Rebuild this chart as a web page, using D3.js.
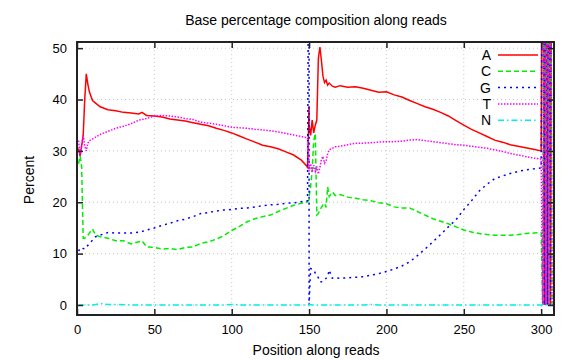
<!DOCTYPE html>
<html><head><meta charset="utf-8">
<script src="https://cdn.jsdelivr.net/npm/d3@7"></script>
<style>body{margin:0;background:#fff}svg{display:block}text{font-family:"Liberation Sans",Arial,sans-serif;}</style>
</head><body><svg id="c" width="576" height="360"></svg>
<script>
const positions = [
 1,2,3,4,5,6,7,8,10,12,
 15,20,25,30,35,40,42,45,50,55,
 60,65,70,75,80,85,90,95,100,105,
 110,115,120,125,130,135,140,145,148,149,
 150,150,151,152,153,154,155,156,157,158,
 159,160,161,162,163,165,167,170,175,180,
 185,190,195,200,205,210,215,220,225,230,
 235,240,245,250,255,260,265,270,275,280,
 285,290,295,300,301,302,303,304,305,306,
 307];
const seriesNames = ["A","C","G","T","N"];
const valuesA = [
 30.5,29,31,33,40,45,43,41.5,39.8,39.3,
 38.6,38,37.8,37.5,37.4,37.2,37.5,36.9,36.8,36.6,
 36.2,36,35.8,35.5,35.2,34.9,34.4,34,33.5,32.9,
 32.3,31.7,31.1,30.8,30.4,29.8,29.2,28.2,27.2,26.8,
 38.7,35,33,36,33.5,35,36,48,50.2,47.5,
 44.5,43.3,43.8,42.8,43.2,42.6,42.4,42.7,42.4,42.5,
 42.2,41.8,41.4,41.5,40.9,40.5,39.8,39.2,38.6,38.1,
 37.5,36.8,35.9,35,34.2,33.5,32.8,32.1,31.7,31.2,
 30.9,30.6,30.3,30,100,0,100,0,100,0,
 100];
const valuesC = [
 27.5,29,27,13,13,13.3,13.5,14,14.8,13.6,
 13.3,13,12.5,12.5,11.9,12.3,12.5,11.3,11.2,10.9,
 11,10.8,11.2,11.3,12,12.3,12.8,13.5,14.5,15.3,
 16.2,16.8,17.2,17.5,18.2,18.8,19.4,19.8,20,20.1,
 20.5,21,23,26.3,32,33.4,17.5,17.8,18.5,19,
 19.5,19.8,19,23,21.1,22,21.3,21.5,21,20.8,
 20.5,20.3,19.9,19.7,19.1,18.9,18.9,18.2,17.5,16.8,
 16.3,15.8,15.2,14.6,14.2,13.9,13.7,13.6,13.6,13.6,
 13.7,13.9,14,14.1,0,100,0,100,0,100,
 0];
const valuesG = [
 10.5,11,11.2,11,10.9,11.3,11.6,12,12.6,13.3,
 13.6,14.1,14,14,14,14.2,14.3,14.6,15,15.5,
 15.9,16.4,16.7,17.2,17.8,18,18.3,18.5,18.6,18.8,
 18.9,19.1,19.3,19.5,19.6,19.8,19.9,20.1,20.2,20.3,
 100,0,7.1,7,6.8,6.2,5.8,5.3,4.5,4.5,
 4.6,4.9,5.2,5.5,6.8,5.2,5.3,5.2,5.3,5.4,
 5.5,5.8,6.1,6.5,7,7.6,8.4,9.6,10.9,12.3,
 13.7,15.2,16.6,18.6,20.3,22.2,23.5,24.6,25.1,25.6,
 26,26.3,26.5,26.7,100,0,100,0,100,0,
 100];
const valuesT = [
 32,29,31,33,31,30,31.5,32,32.3,32.7,
 33.2,33.8,34.4,34.8,35.3,36,36.1,36.3,36.8,36.9,
 36.8,36.6,36.3,36.1,35.6,35.4,35.2,34.9,34.6,34.5,
 34.4,34.2,34.1,33.9,33.7,33.4,33.1,32.8,32.6,32.5,
 28,26,27.5,25.8,27.2,26,27,25.5,26.8,28.4,
 28.9,27.6,28,29.5,30.2,30.5,30.8,30.9,31.2,31.5,
 31.5,31.6,31.7,31.8,31.8,31.9,32.1,32.2,32,31.8,
 31.6,31.4,31.2,31.1,30.9,30.7,30.5,30.2,29.9,29.5,
 29.2,28.9,28.6,28.4,0,100,0,100,0,100,
 0];
const valuesN = [
 0,0,0,0,0,0,0,0,0,0.1,
 0.3,0.1,0.1,0.05,0,0,0,0,0,0,
 0,0,0,0,0,0,0,0,0.1,0,
 0,0,0,0,0,0,0,0,0,0,
 0,0,0.1,0,0,0,0,0,0,0,
 0,0,0,0,0,0,0,0,0,0,
 0,0.1,0,0,0,0,0,0,0,0,
 0,0,0,0,0,0,0,0,0,0,
 0,0,0,0,0,0,0,0,0,0,
 0];
const xTicks = [0,50,100,150,200,250,300];
const yTicks = [0,10,20,30,40,50];
const titleText = "Base percentage composition along reads";
const xLabel = "Position along reads";
const yLabel = "Percent";

const colors = ["#ff0000","#00ee00","#0000ff","#ff00ff","#00eeee"];
const dashes = [null,"5,3","2,4","1.5,1.5","6,3,1.5,3"];
const allValues = [valuesA,valuesC,valuesG,valuesT,valuesN];

const L=77,R=554,T=42,B=315;
const svg=d3.select("#c");
const x=d3.scaleLinear().domain([0,308.3]).range([L,R]);
const y=d3.scaleLinear().domain([-1.95,51.2]).range([B,T]);

// grid
const g=svg.append("g");
g.selectAll(".gx").data(xTicks.filter(d=>d>0)).enter().append("line")
 .attr("x1",d=>x(d)).attr("x2",d=>x(d)).attr("y1",T).attr("y2",B)
 .attr("stroke","#c8c8c8").attr("stroke-width",1).attr("stroke-dasharray","1,3");
g.selectAll(".gy").data(yTicks).enter().append("line")
 .attr("x1",L).attr("x2",R).attr("y1",d=>y(d)).attr("y2",d=>y(d))
 .attr("stroke","#c8c8c8").attr("stroke-width",1).attr("stroke-dasharray","1,3");

svg.append("clipPath").attr("id","clip").append("rect").attr("x",L).attr("y",T).attr("width",R-L).attr("height",B-T);

const line=d3.line().x(d=>x(d[0])).y(d=>y(d[1]));
const plot=svg.append("g").attr("clip-path","url(#clip)");
allValues.forEach((vals,i)=>{
  const pts=positions.map((p,k)=>[p,vals[k]]);
  plot.append("path").datum(pts).attr("d",line).attr("fill","none")
   .attr("stroke",colors[i]).attr("stroke-width",1.5)
   .attr("stroke-dasharray",dashes[i]);
});

// axes with inward ticks, mirrored
const axB=d3.axisBottom(x).tickValues(xTicks).tickSize(-6).tickPadding(10).tickFormat(d3.format("d"));
const axT=d3.axisTop(x).tickValues(xTicks).tickSize(-6).tickFormat("");
const axLft=d3.axisLeft(y).tickValues(yTicks).tickSize(-6).tickPadding(10).tickFormat(d3.format("d"));
const axR=d3.axisRight(y).tickValues(yTicks).tickSize(-6).tickFormat("");
function style(sel){
  sel.select(".domain").remove();
  sel.selectAll(".tick line").attr("stroke","#222").attr("stroke-width",1.5);
  sel.selectAll(".tick text").attr("fill","#000").style("font-size","13px").style("font-family","'Liberation Sans',Arial,sans-serif");
}
svg.append("g").attr("transform",`translate(0,${B})`).call(axB).call(style);
svg.append("g").attr("transform",`translate(0,${T})`).call(axT).call(style);
svg.append("g").attr("transform",`translate(${L},0)`).call(axLft).call(style);
svg.append("g").attr("transform",`translate(${R},0)`).call(axR).call(style);

svg.append("rect").attr("x",L).attr("y",T).attr("width",R-L).attr("height",B-T)
 .attr("fill","none").attr("stroke","#222").attr("stroke-width",2);

// legend
const lg=svg.append("g");
seriesNames.forEach((n,i)=>{
  const yy=55+i*16.3;
  lg.append("text").attr("x",491).attr("y",yy).attr("dy","0.35em").attr("text-anchor","end")
   .style("font-size","14px").text(n);
  lg.append("line").attr("x1",498).attr("x2",538).attr("y1",yy).attr("y2",yy)
   .attr("stroke",colors[i]).attr("stroke-width",1.5).attr("stroke-dasharray",dashes[i]);
});

svg.append("text").attr("x",316).attr("y",25).attr("text-anchor","middle").style("font-size","14px").text(titleText);
svg.append("text").attr("x",316).attr("y",355).attr("text-anchor","middle").style("font-size","14px").text(xLabel);
svg.append("text").attr("transform","translate(34,180) rotate(-90)").attr("text-anchor","middle").style("font-size","14px").text(yLabel);
</script></body></html>
